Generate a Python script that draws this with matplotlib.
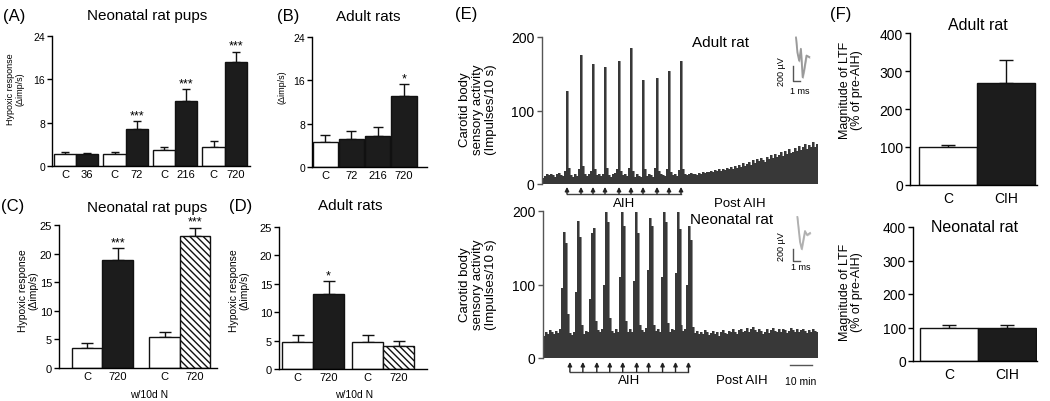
import numpy as np
import matplotlib
matplotlib.use('Agg')
import matplotlib.pyplot as plt
from matplotlib.transforms import blended_transform_factory

plt.rcParams['font.family'] = ['Liberation Sans', 'DejaVu Sans']
plt.rcParams['hatch.linewidth'] = 1.0

# ---------------- data ----------------
A_labels = ['C', '36', 'C', '72', 'C', '216', 'C', '720']
A_values = [2.15, 2.15, 2.15, 6.9, 2.95, 12.0, 3.57, 19.26]
A_err = [0.5, 0.3, 0.5, 1.35, 0.6, 2.15, 1.05, 1.8]
A_fill = ['white', 'black'] * 4
A_sig = ['', '', '', '***', '', '***', '', '***']

B_labels = ['C', '72', '216', '720']
B_values = [4.7, 5.2, 5.8, 13.2]
B_err = [1.3, 1.5, 1.65, 2.1]
B_fill = ['white', 'black', 'black', 'black']
B_sig = ['', '', '', '*']

C_labels = ['C', '720', 'C', '720']
C_values = [3.5, 18.9, 5.5, 23.1]
C_err = [0.95, 2.05, 0.75, 1.4]
C_fill = ['white', 'black', 'white', 'hatch']
C_sig = ['', '***', '', '***']

D_labels = ['C', '720', 'C', '720']
D_values = [4.8, 13.2, 4.75, 4.0]
D_err = [1.1, 2.3, 1.15, 1.0]
D_fill = ['white', 'black', 'white', 'hatch']
D_sig = ['', '*', '', '']

F_labels = ['C', 'CIH']
F_adult = [100, 268]
F_adult_err = [5, 61]
F_neo = [100, 100]
F_neo_err = [8, 8]
F_fill = ['white', 'black']

# carotid body sensory activity (impulses/10 s), one value per bin
trace_adult = [8, 11, 13, 12, 14, 12, 10, 13, 15, 12, 11, 18,
               127, 22, 12, 10, 13, 11, 20, 176, 24, 13, 11, 14, 18, 163, 20,
               12, 14, 11, 13, 159, 22, 12, 10, 13, 15, 20, 168, 18, 12, 14, 11,
               22, 185, 18, 10, 13, 11, 9, 141, 20, 11, 13, 12, 10, 22, 144, 18,
               13, 12, 11, 20, 154, 17, 12, 13, 11, 19, 168, 20,
               14, 12, 13, 15, 13, 14, 12, 15, 14, 16,
               15, 17, 16, 18, 17, 19, 18, 20, 18, 21,
               19, 22, 20, 23, 21, 24, 22, 26, 23, 28,
               25, 27, 30, 26, 32, 29, 34, 31, 36, 33,
               30, 37, 34, 39, 35, 41, 37, 40, 43, 38,
               45, 41, 47, 42, 44, 49, 45, 52, 46, 50,
               55, 48, 53, 51, 57, 50, 54]
trace_neonatal = [30, 36, 33, 38, 35, 32, 37, 34, 40,
                  95, 171, 157, 60, 34, 31, 36,
                  90, 186, 165, 45, 33, 37, 35,
                  80, 170, 177, 50, 38, 36, 40,
                  100, 199, 185, 55, 37, 34, 39, 36,
                  110, 199, 180, 50, 36, 40, 35,
                  105, 199, 170, 45, 38, 36, 41,
                  120, 191, 180, 45, 37, 39, 35,
                  110, 199, 185, 48, 36, 40, 38,
                  115, 199, 175, 45, 37, 39,
                  100, 179, 160, 42,
                  34, 37, 32, 36, 33, 38, 35, 31, 34, 37,
                  33, 36, 30, 35, 38, 34, 32, 37, 35, 39,
                  36, 33, 38, 40, 35, 37, 41, 36, 39, 42,
                  38, 35, 40, 37, 33, 36, 39, 34, 38, 41,
                  37, 35, 39, 36, 40, 38, 34, 37, 41, 38,
                  36, 39, 35, 38, 40, 37, 34, 38, 36, 39,
                  37, 35]
aih_adult = [12, 19, 25, 31, 38, 44, 50, 57, 63, 69]          # bin index of each hypoxia episode
aih_neonatal = [13, 19.5, 26.5, 33, 39.5, 46.5, 52.5, 59.5, 66, 72.5]
bins_per_10min = 11

# single-unit action potentials (ms, µV)
wave_t_adult = [0.0, 0.2, 0.45, 0.7, 0.95, 1.15, 1.5, 1.9]
wave_v_adult = [260, 60, -50, 110, -270, -180, 20, 0]
wave_t_neo = [0.05, 0.2, 0.43, 0.67, 0.93, 1.14, 1.43, 1.86]
wave_v_neo = [306, 136, -119, -238, -68, 68, 0, 34]

# ---------------- figure ----------------
W, H = 1050, 402
fig = plt.figure(figsize=(W / 100, H / 100), dpi=100)


def pax(l, t, r, b):
    return fig.add_axes([l / W, 1 - b / H, (r - l) / W, (b - t) / H])


def ftxt(x, y, s, **kw):
    kw.setdefault('ha', 'center')
    kw.setdefault('va', 'center')
    fig.text(x / W, 1 - y / H, s, **kw)


def bar_panel(ax, pos, vals, errs, fills, sigs, labels, ylim, yticks, xlim,
              width=1.0, yfs=7.5, xfs=7.5, sfs=9, capsize=3.5, xpad=2):
    for p, v, e, f, s in zip(pos, vals, errs, fills, sigs):
        fc = '#1c1c1c' if f == 'black' else 'white'
        hatch = '\\\\\\\\\\' if f == 'hatch' else None
        ax.bar(p, v, width=width, color=fc, edgecolor='#111111', linewidth=1.0,
               hatch=hatch, zorder=2)
        ax.errorbar(p, v, yerr=[[0], [e]], fmt='none', ecolor='#111111',
                    elinewidth=1.0, capsize=capsize, capthick=1.0, zorder=1)
        if s:
            ax.annotate(s, (p, v + e), xytext=(0, 0), textcoords='offset points',
                        ha='center', va='bottom', fontsize=sfs)
    ax.set_xlim(*xlim)
    ax.set_ylim(*ylim)
    ax.set_yticks(yticks)
    ax.set_xticks(pos)
    ax.set_xticklabels(labels)
    for sp in ['top', 'right']:
        ax.spines[sp].set_visible(False)
    ax.spines['left'].set_linewidth(1.0)
    ax.spines['bottom'].set_linewidth(1.0)
    ax.tick_params(axis='x', length=0, labelsize=xfs, pad=xpad)
    ax.tick_params(axis='y', length=3.5, width=1.0, labelsize=yfs, pad=1.5)
    ax.patch.set_alpha(0)


# ---- (A)
axA = pax(52, 37, 250, 167)
posA = [g * 2.23 + k for g in range(4) for k in range(2)]
bar_panel(axA, posA, A_values, A_err, A_fill, A_sig, A_labels, (0, 24),
          [0, 8, 16, 24], (-0.59, 8.33), width=1.0, yfs=7.5, xfs=8, capsize=3)
ftxt(14, 16, '(A)', fontsize=12)
ftxt(147, 16, 'Neonatal rat pups', fontsize=11)
ftxt(15, 89, 'Hypoxic response\n(Δimp/s)', fontsize=6.5, rotation=90, linespacing=1.1)

# ---- (B)
axB = pax(312, 38, 427, 168)
posB = list(range(4))
bar_panel(axB, posB, B_values, B_err, B_fill, B_sig, B_labels, (0, 24),
          [0, 8, 16, 24], (-0.5, 3.87), width=0.96, yfs=7.5, xfs=8, capsize=3.5)
ftxt(288, 17, '(B)', fontsize=12)
ftxt(368, 17, 'Adult rats', fontsize=11)
ftxt(282, 87, '(Δimp/s)', fontsize=6.5, rotation=90)

# ---- (C)
axC = pax(59, 226, 217, 369)
posC = [g * 2.54 + k for g in range(2) for k in range(2)]
bar_panel(axC, posC, C_values, C_err, C_fill, C_sig, C_labels, (0, 25),
          [0, 5, 10, 15, 20, 25], (-0.92, 4.26), width=1.0, yfs=8, xfs=8, capsize=4)
ftxt(13, 207, '(C)', fontsize=12)
ftxt(147, 208, 'Neonatal rat pups', fontsize=11)
ftxt(28, 291, 'Hypoxic response\n(Δimp/s)', fontsize=7.5, rotation=90, linespacing=1.1)
ftxt(149, 395, 'w/10d N', fontsize=7.5)

# ---- (D)
axD = pax(279, 228, 427, 370)
posD = [g * 2.26 + k for g in range(2) for k in range(2)]
bar_panel(axD, posD, D_values, D_err, D_fill, D_sig, D_labels, (0, 25),
          [0, 5, 10, 15, 20, 25], (-0.6, 4.18), width=1.0, yfs=8, xfs=8, capsize=4)
ftxt(241, 207, '(D)', fontsize=12)
ftxt(350, 206, 'Adult rats', fontsize=11)
ftxt(239, 291, 'Hypoxic response\n(Δimp/s)', fontsize=7.5, rotation=90, linespacing=1.1)
ftxt(354, 395, 'w/10d N', fontsize=7.5)


# ---- (E)
def trace_panel(ax, trace, marks, tip, base, txt_y):
    x = np.arange(len(trace) + 1)
    y = list(trace) + [trace[-1]]
    ax.fill_between(x, y, step='post', color='#383838', linewidth=0, zorder=2)
    ax.step(x, y, where='post', color='#7a7a7a', linewidth=0.6, zorder=1)
    ax.set_xlim(0, len(trace))
    ax.set_ylim(0, 200)
    ax.set_yticks([0, 100, 200])
    ax.set_xticks([])
    for sp in ['top', 'right', 'bottom']:
        ax.spines[sp].set_visible(False)
    ax.spines['left'].set_color('#555555')
    ax.spines['left'].set_linewidth(1.0)
    ax.tick_params(axis='y', length=3.5, width=1.0, color='#555555',
                   labelsize=10, pad=2)
    ax.patch.set_alpha(0)
    tr = blended_transform_factory(ax.transData, ax.transAxes)
    for m in marks:
        ax.annotate('', xy=(m + 0.5, tip), xytext=(m + 0.5, base),
                    xycoords=tr, textcoords=tr, annotation_clip=False,
                    arrowprops=dict(arrowstyle='-|>', color='#222222', lw=1.0,
                                    mutation_scale=6, shrinkA=0, shrinkB=0))
    ax.plot([marks[0] + 0.5, marks[-1] + 0.5], [base, base], transform=tr,
            clip_on=False, color='#444444', lw=1.0)
    ax.text((marks[0] + marks[-1]) / 2 + 0.5, txt_y, 'AIH', transform=tr,
            ha='center', va='center', fontsize=9.5)
    return tr


axE1 = pax(542, 38, 818, 185)
tr1 = trace_panel(axE1, trace_adult, aih_adult, -0.02, -0.068, -0.13)
axE2 = pax(543, 212, 818, 359)
tr2 = trace_panel(axE2, trace_neonatal, aih_neonatal, -0.027, -0.095, -0.15)
ftxt(740, 204, 'Post AIH', fontsize=9.5)
ftxt(742, 381, 'Post AIH', fontsize=9.5)
ftxt(466, 15, '(E)', fontsize=12)
ftxt(720, 43, 'Adult rat', fontsize=11)
ftxt(732, 220, 'Neonatal rat', fontsize=11)
ftxt(478, 110, 'Carotid body\nsensory activity\n(Impulses/10 s)', fontsize=9.5,
     rotation=90, linespacing=1.1)
ftxt(478, 285, 'Carotid body\nsensory activity\n(Impulses/10 s)', fontsize=9.5,
     rotation=90, linespacing=1.1)
# 10 min scale bar
n2 = len(trace_neonatal)
axE2.plot([n2 - 14, n2 - 14 + bins_per_10min], [-0.048, -0.048], transform=tr2,
          clip_on=False, color='#555555', lw=1.0)
axE2.text(n2 - 14 + bins_per_10min / 2, -0.157, '10 min', transform=tr2,
          ha='center', va='center', fontsize=7.5)


# spike insets
def spike_inset(box, t, v, xlim, ylim, bar_t, bar_v, color):
    ax = pax(*box)
    ax.plot(t, v, color=color, lw=1.3, solid_joinstyle='round')
    ax.plot([tt + 0.08 for tt in t], [vv - 15 for vv in v], color=color,
            lw=0.8, alpha=0.6)
    ax.plot([bar_t, bar_t, bar_t + 1], [bar_v + 200, bar_v, bar_v],
            color='#555555', lw=1.0)
    ax.set_xlim(*xlim)
    ax.set_ylim(*ylim)
    ax.axis('off')
    return ax


spike_inset((775, 30, 812, 100), wave_t_adult, wave_v_adult, (-3.0, 2.29),
            (-560, 373), -0.43, -320, '#9a9a9a')
ftxt(781, 72, '200 µV', fontsize=6.5, rotation=90)
ftxt(800, 92, '1 ms', fontsize=6.5)
spike_inset((775, 212, 812, 275), wave_t_neo, wave_v_neo, (-3.14, 2.14),
            (-663, 408), -0.64, -437, '#b0b0b0')
ftxt(782, 247, '200 µV', fontsize=6.5, rotation=90)
ftxt(801, 268, '1 ms', fontsize=6.5)

# ---- (F)
axF1 = pax(910, 34, 1037, 186)
bar_panel(axF1, [0, 1], F_adult, F_adult_err, F_fill, ['', ''], F_labels,
          (0, 400), [0, 100, 200, 300, 400], (-0.655, 1.53), width=1.0,
          yfs=10, xfs=10, capsize=5, xpad=4)
axF2 = pax(913, 228, 1037, 362)
bar_panel(axF2, [0, 1], F_neo, F_neo_err, F_fill, ['', ''], F_labels,
          (0, 400), [0, 100, 200, 300, 400], (-0.62, 1.51), width=1.0,
          yfs=10, xfs=10, capsize=5, xpad=4)
ftxt(841, 15, '(F)', fontsize=12)
ftxt(978, 25, 'Adult rat', fontsize=11.5)
ftxt(975, 228, 'Neonatal rat', fontsize=11.5)
ftxt(851, 90, 'Magnitude of LTF\n(% of pre-AIH)', fontsize=9, rotation=90,
     linespacing=1.1)
ftxt(851, 292, 'Magnitude of LTF\n(% of pre-AIH)', fontsize=9, rotation=90,
     linespacing=1.1)

fig.savefig('out.png', dpi=100)
